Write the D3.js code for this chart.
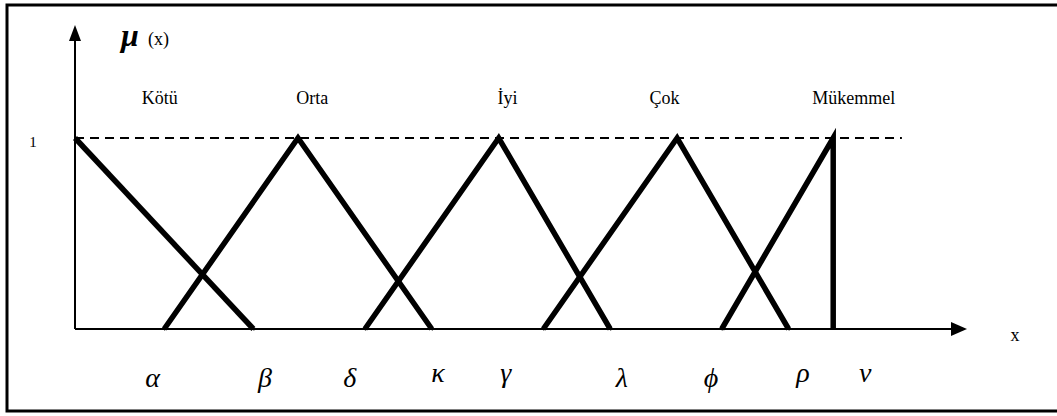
<!DOCTYPE html>
<html>
<head>
<meta charset="utf-8">
<script src="https://cdn.jsdelivr.net/npm/d3@7"></script>
<style>
    body { margin: 0; background: #fff; }
</style>
</head>
<body>
<div id="chart"></div>
<script>
// membership sets: name, [left foot, peak, right foot] on the x universe
const setNames = ["Kötü", "Orta", "İyi", "Çok", "Mükemmel"];
const setPoints = [
    [0, 0, 20],
    [10, 25, 40],
    [32.5, 47.5, 60],
    [52.5, 67.5, 80],
    [72.5, 85, 85]
];
const setLabelX = [9.5, 26.6, 48.5, 66.1, 87.3];

// greek labels under the x axis
const greekLabels = ["α", "β", "δ", "κ", "γ", "λ", "ϕ", "ρ", "ν"];
const greekX = [8.7, 21.3, 30.8, 40.7, 48.3, 61.3, 71.3, 81.6, 88.6];
const greekHigh = [false, false, false, true, true, false, false, true, true];

const footTicks = [10, 20, 32.5, 40, 52.5, 60, 72.5, 80];
const dashedEnd = 92.7;

const width = 1057, height = 416;
const serif = "'Liberation Serif', 'Times New Roman', serif";

const svg = d3.select("#chart").append("svg")
    .attr("width", width)
    .attr("height", height);

// outer frame (right edge falls outside the picture)
svg.append("rect")
    .attr("x", 7).attr("y", 5)
    .attr("width", 1060).attr("height", 406)
    .attr("fill", "none")
    .attr("stroke", "#000")
    .attr("stroke-width", 3);

const x = d3.scaleLinear().domain([0, 100]).range([75, 967]);
const y = d3.scaleLinear().domain([0, 1]).range([329, 138]);

// x axis with tiny ticks at the feet
const xAxis = svg.append("g")
    .attr("transform", `translate(0, ${y(0)})`)
    .call(d3.axisBottom(x).tickValues(footTicks).tickSize(2).tickFormat(""));
xAxis.select(".domain").remove();
xAxis.selectAll("line").attr("stroke", "#777");

svg.append("line")
    .attr("x1", x(0)).attr("x2", x(100) - 12)
    .attr("y1", y(0)).attr("y2", y(0))
    .attr("stroke", "#000").attr("stroke-width", 2);
svg.append("path")
    .attr("d", `M${x(100)},${y(0)} L${x(100) - 16},${y(0) - 7} L${x(100) - 16},${y(0) + 7} Z`)
    .attr("fill", "#000");

// y axis with arrow
svg.append("line")
    .attr("x1", x(0)).attr("x2", x(0))
    .attr("y1", y(0)).attr("y2", 36)
    .attr("stroke", "#000").attr("stroke-width", 2);
svg.append("path")
    .attr("d", `M${x(0)},25 L${x(0) - 6},41 L${x(0) + 6},41 Z`)
    .attr("fill", "#000");

// dashed line at membership 1
svg.append("line")
    .attr("x1", x(0)).attr("x2", x(dashedEnd))
    .attr("y1", y(1)).attr("y2", y(1))
    .attr("stroke", "#000").attr("stroke-width", 2)
    .attr("stroke-dasharray", "9,6");

// triangles
const line = d3.line().x(d => x(d[0])).y(d => y(d[1]));
svg.selectAll(".mf")
    .data(setPoints)
    .enter().append("path")
    .attr("class", "mf")
    .attr("d", p => line([[p[0], p[0] === p[1] ? 1 : 0], [p[1], 1], [p[2], 0]]))
    .attr("fill", "none")
    .attr("stroke", "#000")
    .attr("stroke-width", 5.5)
    .attr("stroke-linejoin", "miter");

// set names
svg.selectAll(".setName")
    .data(setNames)
    .enter().append("text")
    .attr("class", "setName")
    .attr("x", (d, i) => x(setLabelX[i]))
    .attr("y", 104)
    .attr("text-anchor", "middle")
    .attr("font-family", serif)
    .attr("font-size", 18)
    .text(d => d);

// greek letters
svg.selectAll(".greek")
    .data(greekLabels)
    .enter().append("text")
    .attr("class", "greek")
    .attr("x", (d, i) => x(greekX[i]))
    .attr("y", (d, i) => greekHigh[i] ? 382 : 387)
    .attr("text-anchor", "middle")
    .attr("font-family", serif)
    .attr("font-size", 28)
    .attr("font-style", "italic")
    .text(d => d);

// axis labels
svg.append("text")
    .attr("x", 121).attr("y", 46)
    .attr("font-family", serif)
    .attr("font-size", 32)
    .attr("font-style", "italic")
    .attr("font-weight", "bold")
    .text("μ");
svg.append("text")
    .attr("x", 148).attr("y", 45)
    .attr("font-family", serif)
    .attr("font-size", 18)
    .text("(x)");

svg.append("text")
    .attr("x", 33).attr("y", 147)
    .attr("text-anchor", "middle")
    .attr("font-family", serif)
    .attr("font-size", 15)
    .text("1");

svg.append("text")
    .attr("x", 1015).attr("y", 341)
    .attr("text-anchor", "middle")
    .attr("font-family", serif)
    .attr("font-size", 18)
    .text("x");
</script>
</body>
</html>
